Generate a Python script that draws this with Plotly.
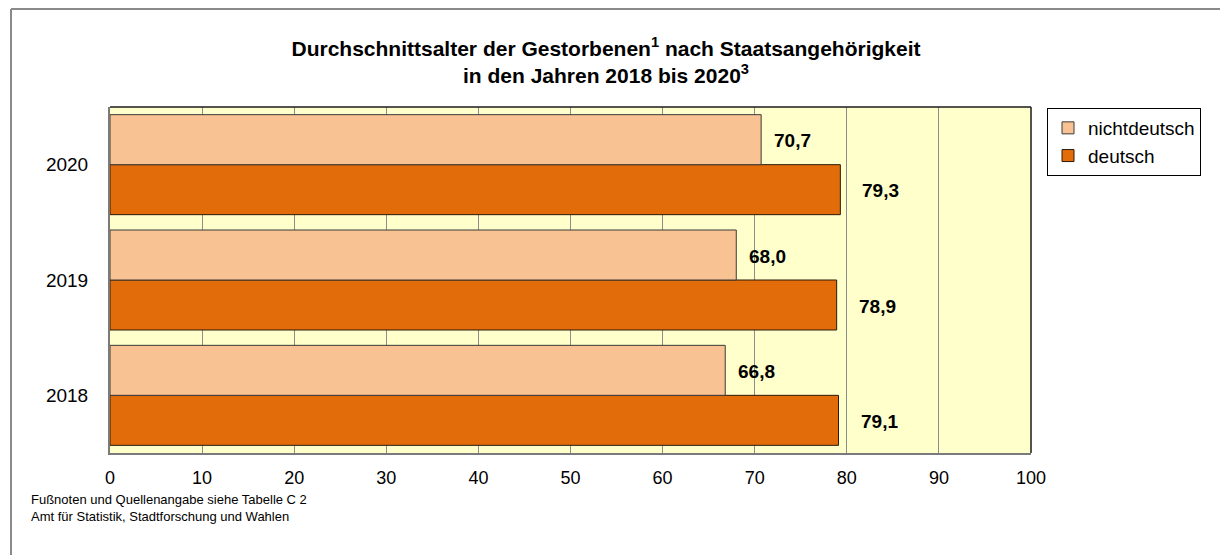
import plotly.graph_objects as go

years = ["2018", "2019", "2020"]
deutsch = [79.1, 78.9, 79.3]
nichtdeutsch = [66.8, 68.0, 70.7]
x_ticks = [0, 10, 20, 30, 40, 50, 60, 70, 80, 90, 100]

C_ND = "#F9C293"
C_D = "#E36C0A"
FONT = "Liberation Sans, Arial, sans-serif"

# page body adds an 8px offset; layout numbers below are in screen pixels
OFF = 8
W, H = 1220, 547
L, R, T, B = 102, 197, 99, 102
pw, ph = W - L - R, H - T - B

def px(x):
    return (x - OFF - L) / pw

def py(y):
    return (H - B - (y - OFF)) / ph

fig = go.Figure()
fig.add_trace(go.Bar(
    y=years, x=deutsch, orientation="h", name="deutsch",
    marker=dict(color=C_D, line=dict(color="#2a1a0a", width=1)),
    legendrank=2,
))
fig.add_trace(go.Bar(
    y=years, x=nichtdeutsch, orientation="h", name="nichtdeutsch",
    marker=dict(color=C_ND, line=dict(color="#3a3a3a", width=1)),
    legendrank=1,
))

def fmt(v):
    return "<b>%s</b>" % ("%.1f" % v).replace(".", ",")

ann = []
for i, v in enumerate(nichtdeutsch):
    ann.append(dict(x=v, y=i, xref="x", yref="y", text=fmt(v),
                    showarrow=False, xanchor="left", xshift=11, yshift=24,
                    font=dict(size=19, color="black", family=FONT)))
for i, v in enumerate(deutsch):
    ann.append(dict(x=v, y=i, xref="x", yref="y", text=fmt(v),
                    showarrow=False, xanchor="left", xshift=20, yshift=-26,
                    font=dict(size=19, color="black", family=FONT)))

ann.append(dict(x=px(29), y=py(490), xref="paper", yref="paper", xanchor="left", yanchor="top",
                align="left", showarrow=False,
                text="Fußnoten und Quellenangabe siehe Tabelle C 2<br>Amt für Statistik, Stadtforschung und Wahlen",
                font=dict(size=13, color="black", family=FONT)))

shapes = [
    dict(type="line", xref="paper", yref="paper", x0=px(11), x1=px(11), y0=py(9), y1=py(560),
         line=dict(color="#8a8a8a", width=2)),
    dict(type="line", xref="paper", yref="paper", x0=px(11), x1=px(1240), y0=py(9), y1=py(9),
         line=dict(color="#8a8a8a", width=2)),
    dict(type="line", xref="paper", yref="paper", x0=0, x1=1, y0=1, y1=1,
         line=dict(color="#1a1a1a", width=1.5)),
    dict(type="line", xref="paper", yref="paper", x0=1, x1=1, y0=0, y1=1,
         line=dict(color="#1a1a1a", width=1.5)),
]

fig.update_layout(
    width=W, height=H,
    margin=dict(l=L, r=R, t=T, b=B, autoexpand=False),
    paper_bgcolor="white",
    plot_bgcolor="#FFFFCC",
    barmode="group",
    bargap=0.133,
    bargroupgap=0,
    font=dict(family=FONT, color="black"),
    title=dict(
        text="<b>Durchschnittsalter der Gestorbenen<sup>1</sup> nach Staatsangehörigkeit<br>in den Jahren 2018 bis 2020<sup>3</sup></b>",
        x=(606 - OFF) / W, xanchor="center", y=1 - (56 - OFF) / H, yanchor="middle",
        font=dict(size=21, family=FONT, color="black"),
    ),
    xaxis=dict(
        range=[0, 100], tickvals=x_ticks, ticktext=[str(t) for t in x_ticks],
        showgrid=True, gridcolor="#8c8c8c", gridwidth=1,
        tickfont=dict(size=18), ticks="", ticklabelstandoff=7,
        showline=True, linecolor="#7a7a7a", linewidth=2, mirror=False,
        zeroline=False, fixedrange=True,
    ),
    yaxis=dict(
        type="category", categoryorder="array", categoryarray=years,
        range=[-0.5, 2.5],
        tickfont=dict(size=19), ticks="", ticklabelstandoff=16,
        showline=True, linecolor="#7a7a7a", linewidth=2,
        showgrid=False, zeroline=False, fixedrange=True,
    ),
    legend=dict(
        x=px(1047), y=py(108), xanchor="left", yanchor="top",
        bordercolor="black", borderwidth=1, bgcolor="white",
        font=dict(size=19, family=FONT),
    ),
    annotations=ann,
    shapes=shapes,
)

fig.write_html("out.html")
